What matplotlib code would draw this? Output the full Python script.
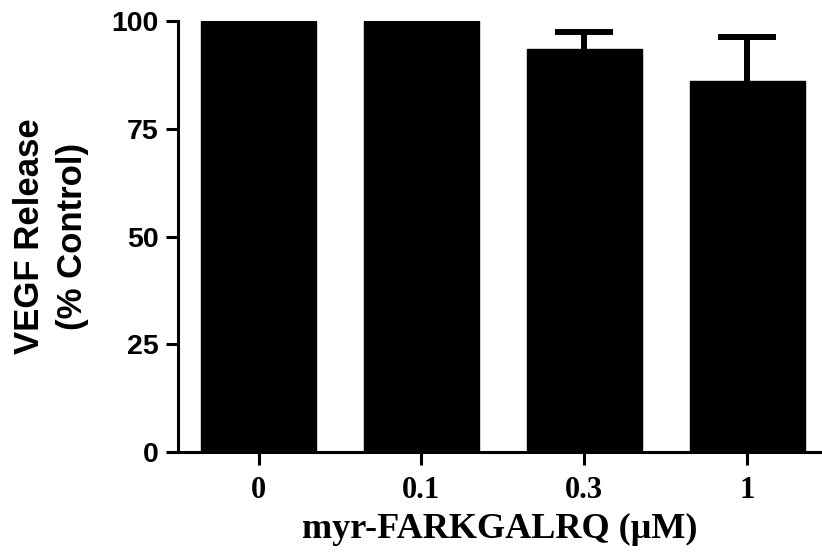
import numpy as np
import matplotlib
matplotlib.use("Agg")
import matplotlib.pyplot as plt

# VEGF release vs myr-FARKGALRQ dose
doses = ["0", "0.1", "0.3", "1"]
vegf = [100.0, 100.0, 93.5, 86.1]
sem = [0.0, 0.0, 3.9, 10.2]

fig = plt.figure(figsize=(8.22, 5.59), dpi=100)
ax = fig.add_axes([0.2165, 0.1914, 0.7835, 0.771])

x = np.arange(len(doses))
ax.bar(x, vegf, width=0.707, color="black", edgecolor="black", zorder=2)

# upper error bars only (first two groups have none)
idx = [i for i, e in enumerate(sem) if e > 0]
eb = ax.errorbar(x[idx], [vegf[i] for i in idx],
                 yerr=[[0] * len(idx), [sem[i] for i in idx]],
                 fmt="none", ecolor="black", elinewidth=4.3,
                 capsize=21, capthick=4.3, zorder=3)
eb[1][0].set_visible(False)  # lower cap sits on the bar top

ax.set_xlim(-0.495, 3.46)
ax.set_ylim(0, 100)
ax.set_yticks([0, 25, 50, 75, 100])
ax.set_xticks(x)
ax.set_xticklabels(doses, family="Liberation Serif", fontweight="bold", fontsize=22)
for lab in ax.get_yticklabels():
    lab.set_family("Liberation Sans")
    lab.set_fontweight("bold")
    lab.set_fontsize(20.5)

for s in ["top", "right"]:
    ax.spines[s].set_visible(False)
for s in ["left", "bottom"]:
    ax.spines[s].set_linewidth(2.2)
ax.tick_params(axis="both", width=2.2, length=9, direction="out")
ax.tick_params(axis="x", pad=8)
ax.tick_params(axis="y", pad=5)

ax.set_ylabel("VEGF Release\n(% Control)", family="Liberation Sans",
              fontweight="bold", fontsize=25, linespacing=1.4, labelpad=16)
ax.set_xlabel("myr-FARKGALRQ (\u00b5M)", family="Liberation Serif",
              fontweight="bold", fontsize=26, labelpad=6)

fig.savefig("out.png", dpi=100)
